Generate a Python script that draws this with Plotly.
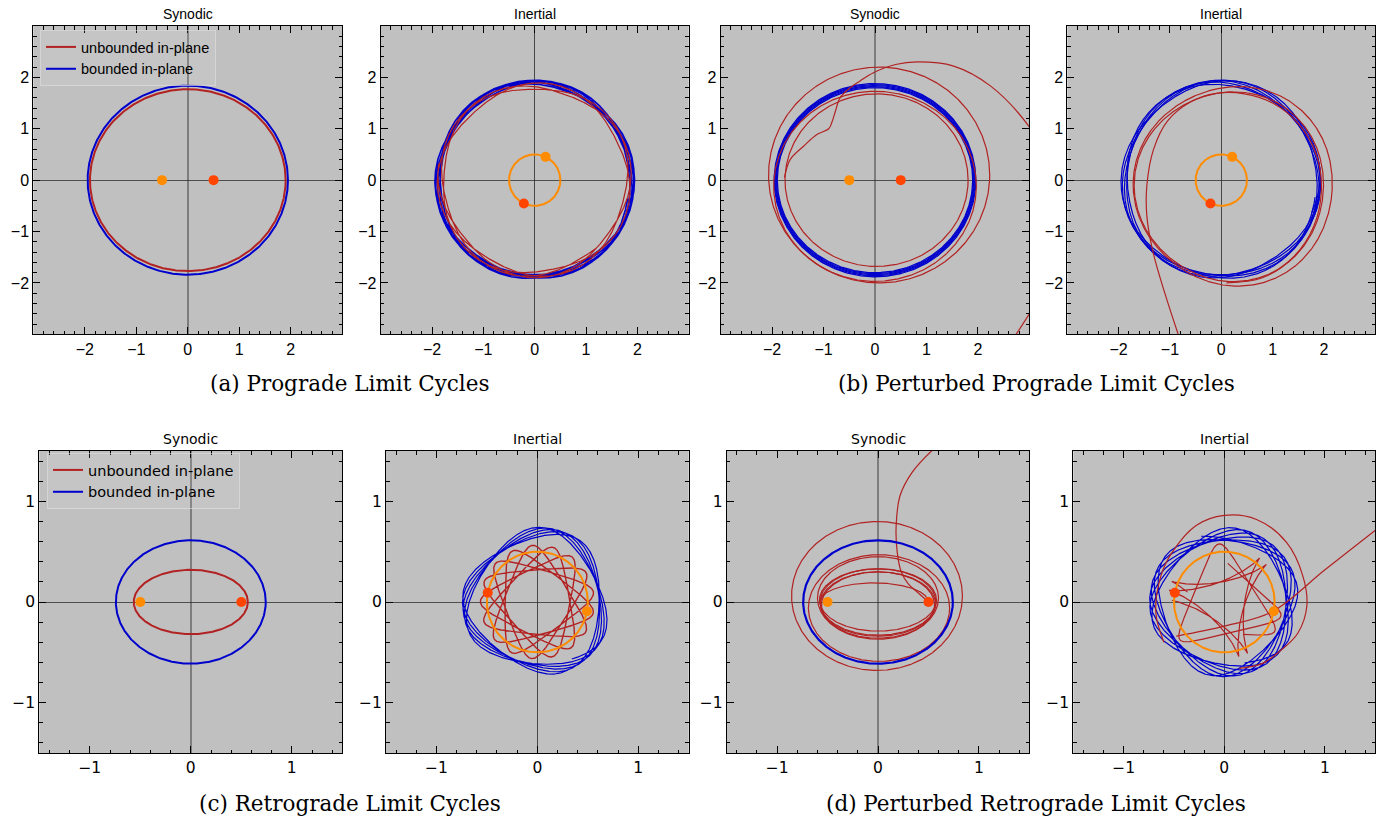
import numpy as np
import plotly.graph_objects as go

FIG_W, FIG_H = 1383, 819
BG = "#c0c0c0"
RED = "#b22222"
BLUE = "#0000cd"
ORANGE = "#ff8c00"
ORANGERED = "#ff4500"

# ---------------- values ----------------
primary_x = [-0.5, 0.5]          # orange, orange-red primaries (synodic)
primary_y = [0.0, 0.0]
primary_orbit_radius = 0.5
frame_angle_pro = 245.0          # deg, rotation of the frame at the final instant
frame_angle_retro = 169.5

# (a) prograde limit cycles, synodic semi-axes [a, b]
pro_red_axes = [1.90, 1.77]
pro_blue_axes = [1.945, 1.84]
pro_red_rate, pro_red_revs, pro_red_phase = -0.63, 3.4, 1.2
pro_blue_rate, pro_blue_revs, pro_blue_phase = -0.61, 5.0, 1.8

# (b) perturbed prograde: synodic loops
pp_blue_a = [1.90, 1.915, 1.93, 1.945, 1.96]
pp_blue_b = [1.80, 1.82, 1.84, 1.86, 1.88]
pp_red_cx = [0.08, 0.00, 0.03]
pp_red_cy = [0.10, -0.12, 0.00]
pp_red_a = [2.15, 1.97, 1.78]
pp_red_b = [2.10, 1.85, 1.68]
pp_escape_x = [-1.76, -1.65, -1.39, -1.13, -0.90, -0.84, -0.77, -0.68, -0.48, -0.29, -0.03, 0.40, 0.82, 1.53, 2.25, 2.99, 3.30]
pp_escape_y = [0.05, 0.40, 0.66, 0.89, 1.00, 1.12, 1.34, 1.60, 1.80, 1.93, 2.09, 2.25, 2.30, 2.22, 1.83, 1.05, 0.50]
pp_tail_x = [2.68, 3.10]
pp_tail_y = [-3.10, -2.45]
# (b) perturbed prograde: inertial
ppi_blue_a = [1.955, 1.95, 1.945, 1.94, 1.935]
ppi_blue_b = [1.85, 1.845, 1.84, 1.835, 1.83]
ppi_blue_phase_end = 1.815
ppi_red_cx = [0.25, 0.17]
ppi_red_cy = [-0.11, -0.12]
ppi_red_a = [1.97, 1.87]
ppi_red_b = [1.91, 1.82]
ppi_escape_x = [-0.84, -1.10, -1.33, -1.45, -1.45, -1.32, -1.05, -0.60, -0.10, 0.45, 1.00, 1.50, 1.85, 1.95, 1.80, 1.40, 0.80, 0.10]
ppi_escape_y = [-3.00, -2.20, -1.40, -0.70, -0.10, 0.60, 1.15, 1.52, 1.69, 1.68, 1.50, 1.10, 0.50, -0.20, -0.90, -1.50, -1.90, -2.00]

# (c) retrograde limit cycles
retro_red_axes = [0.565, 0.32]
retro_blue_axes = [0.742, 0.613]
retro_red_rate, retro_red_revs, retro_red_phase = -3.4, 6.0, 0.6
retro_blue_rate, retro_blue_revs, retro_blue_phase = -2.87, 5.0, 2.204

# (d) perturbed retrograde: synodic loops
pr_red_cx = [-0.01, 0.01, 0.00, 0.00, 0.00, 0.00, 0.00]
pr_red_cy = [0.06, -0.06, 0.04, 0.02, 0.00, -0.02, -0.03]
pr_red_a = [0.847, 0.70, 0.60, 0.58, 0.575, 0.57, 0.56]
pr_red_b = [0.74, 0.53, 0.41, 0.31, 0.33, 0.32, 0.33]
pr_arc_axes = [-0.04, 0.54, 0.19]       # centre x, a, b of the inner arc
pr_escape_x = [0.50, 0.40, 0.30, 0.23, 0.19, 0.18, 0.22, 0.34, 0.54, 0.62]
pr_escape_y = [0.00, 0.09, 0.18, 0.30, 0.50, 0.76, 1.06, 1.29, 1.51, 1.58]
# (d) perturbed retrograde: inertial
pri_blue_axes = [0.742, 0.613]
pri_blue_rate, pri_blue_revs, pri_blue_phase = -2.82, 6.5, 2.0
pri_loop_a = [0.56, 0.58]
pri_loop_b = [0.20, 0.31]
pri_loop_rate = [-2.85, -3.3]
pri_loop_revs = [2.0, 1.4]
pri_loop_phase = [0.4, 2.0]
pri_outer_x = [-0.60, -0.68, -0.63, -0.52, -0.28, 0.00, 0.32, 0.62, 0.78, 0.82, 0.73, 0.55, 0.38, 0.15]
pri_outer_y = [-0.40, -0.11, 0.26, 0.49, 0.76, 0.86, 0.82, 0.59, 0.26, -0.04, -0.31, -0.49, -0.61, -0.66]
pri_escape_x = [-0.48, 0.00, 0.47, 1.00, 1.51]
pri_escape_y = [-0.34, -0.24, -0.10, 0.32, 0.72]

# ---------------- layout boxes (pixels) ----------------
boxes = {
    "a1": (33.3, 342.3, 26.0, 334.3), "a2": (380.7, 688.7, 26.0, 334.3),
    "b1": (720.7, 1029.3, 26.0, 334.3), "b2": (1067.3, 1375.3, 26.0, 334.3),
    "c1": (39.3, 342.3, 451.0, 753.0), "c2": (386.0, 688.7, 451.0, 753.0),
    "d1": (726.7, 1029.3, 451.0, 753.0), "d2": (1073.3, 1375.3, 451.0, 753.0),
}
order = ["a1", "a2", "b1", "b2", "c1", "c2", "d1", "d2"]
titles = {"a1": "Synodic", "a2": "Inertial", "b1": "Synodic", "b2": "Inertial",
          "c1": "Synodic", "c2": "Inertial", "d1": "Synodic", "d2": "Inertial"}

fig = go.Figure()


def ax(key):
    i = order.index(key) + 1
    return ("x%d" % i, "y%d" % i)


def add(key, x, y, color, width, spline=False, **kw):
    xa, ya = ax(key)
    line = dict(color=color, width=width)
    if spline:
        line["shape"] = "spline"
        line["smoothing"] = 1.0
    fig.add_trace(go.Scatter(x=x, y=y, mode="lines", line=line, xaxis=xa, yaxis=ya,
                             hoverinfo="skip", showlegend=kw.pop("showlegend", False), **kw))


def ellipse(cx, cy, a, b, th0=0.0, th1=2 * np.pi, n=600):
    th = np.linspace(th0, th1, n)
    return cx + a * np.cos(th), cy + b * np.sin(th)


def inertial(a, b, rate, revs, frame_end_deg, phase_end, t_shift=0.0, n=5000):
    t_end = np.deg2rad(frame_end_deg) - t_shift
    dur = revs * 2 * np.pi / abs(rate + 1.0)
    t = np.linspace(t_end - dur, t_end, n)
    th = phase_end + rate * (t - t_end)
    xs, ys = a * np.cos(th), b * np.sin(th)
    return xs * np.cos(t) - ys * np.sin(t), xs * np.sin(t) + ys * np.cos(t)


def primaries_inertial(key, frame_deg):
    ang = np.deg2rad(frame_deg)
    xo, yo = ellipse(0, 0, primary_orbit_radius, primary_orbit_radius)
    add(key, xo, yo, ORANGE, 2)
    xa, ya = ax(key)
    px = [primary_x[0] * np.cos(ang), primary_x[1] * np.cos(ang)]
    py = [primary_x[0] * np.sin(ang), primary_x[1] * np.sin(ang)]
    fig.add_trace(go.Scatter(x=px, y=py, mode="markers", xaxis=xa, yaxis=ya,
                             marker=dict(size=10, color=[ORANGE, ORANGERED]),
                             hoverinfo="skip", showlegend=False))


def primaries_synodic(key):
    xa, ya = ax(key)
    fig.add_trace(go.Scatter(x=primary_x, y=primary_y, mode="markers", xaxis=xa, yaxis=ya,
                             marker=dict(size=10, color=[ORANGE, ORANGERED]),
                             hoverinfo="skip", showlegend=False))


# ---- (a) synodic
x, y = ellipse(0, 0, *pro_red_axes)
add("a1", x, y, RED, 2, showlegend=True, name="unbounded in-plane", legend="legend")
x, y = ellipse(0, 0, *pro_blue_axes)
add("a1", x, y, BLUE, 2, showlegend=True, name="bounded in-plane", legend="legend")
primaries_synodic("a1")
# ---- (a) inertial
x, y = inertial(*pro_blue_axes, pro_blue_rate, pro_blue_revs, frame_angle_pro, pro_blue_phase)
add("a2", x, y, BLUE, 1.6)
x, y = inertial(*pro_red_axes, pro_red_rate, pro_red_revs, frame_angle_pro, pro_red_phase)
add("a2", x, y, RED, 1.2)
primaries_inertial("a2", frame_angle_pro)

# ---- (b) synodic
for a, b in zip(pp_blue_a, pp_blue_b):
    x, y = ellipse(0, 0, a, b)
    add("b1", x, y, BLUE, 1.3)
for cx, cy, a, b in zip(pp_red_cx, pp_red_cy, pp_red_a, pp_red_b):
    x, y = ellipse(cx, cy, a, b)
    add("b1", x, y, RED, 1.2)
add("b1", pp_escape_x, pp_escape_y, RED, 1.2, spline=True)
add("b1", pp_tail_x, pp_tail_y, RED, 1.2)
primaries_synodic("b1")
# ---- (b) inertial
shift = 0.0
for a, b in zip(ppi_blue_a, ppi_blue_b):
    x, y = inertial(a, b, pro_blue_rate, 1.02, frame_angle_pro,
                    ppi_blue_phase_end - pro_blue_rate * shift, t_shift=shift)
    add("b2", x, y, BLUE, 1.2)
    shift += 2 * np.pi / abs(pro_blue_rate + 1.0)
for cx, cy, a, b in zip(ppi_red_cx, ppi_red_cy, ppi_red_a, ppi_red_b):
    x, y = inertial(a, b, -0.6, 1.0, frame_angle_pro, 0.5)
    add("b2", x + cx, y + cy, RED, 1.2)
add("b2", ppi_escape_x, ppi_escape_y, RED, 1.2, spline=True)
primaries_inertial("b2", frame_angle_pro)

# ---- (c) synodic
x, y = ellipse(0, 0, *retro_red_axes)
add("c1", x, y, RED, 2, showlegend=True, name="unbounded in-plane", legend="legend2")
x, y = ellipse(0, 0, *retro_blue_axes)
add("c1", x, y, BLUE, 2, showlegend=True, name="bounded in-plane", legend="legend2")
primaries_synodic("c1")
# ---- (c) inertial
x, y = inertial(*retro_blue_axes, retro_blue_rate, retro_blue_revs, frame_angle_retro, retro_blue_phase)
add("c2", x, y, BLUE, 1.2)
x, y = inertial(*retro_red_axes, retro_red_rate, retro_red_revs, frame_angle_retro, retro_red_phase)
add("c2", x, y, RED, 1.4)
primaries_inertial("c2", frame_angle_retro)

# ---- (d) synodic
for cx, cy, a, b in zip(pr_red_cx, pr_red_cy, pr_red_a, pr_red_b):
    x, y = ellipse(cx, cy, a, b)
    add("d1", x, y, RED, 1.2)
x, y = ellipse(pr_arc_axes[0], 0, pr_arc_axes[1], pr_arc_axes[2], 0, np.pi)
add("d1", x, y, RED, 1.2)
add("d1", pr_escape_x, pr_escape_y, RED, 1.2, spline=True)
x, y = ellipse(0, 0, *retro_blue_axes)
add("d1", x, y, BLUE, 2.2)
primaries_synodic("d1")
# ---- (d) inertial
x, y = inertial(*pri_blue_axes, pri_blue_rate, pri_blue_revs, frame_angle_retro, pri_blue_phase)
add("d2", x, y, BLUE, 1.2)
for a, b, r, n, p in zip(pri_loop_a, pri_loop_b, pri_loop_rate, pri_loop_revs, pri_loop_phase):
    x, y = inertial(a, b, r, n, frame_angle_retro, p)
    add("d2", x, y, RED, 1.2)
add("d2", pri_outer_x, pri_outer_y, RED, 1.2, spline=True)
add("d2", pri_escape_x, pri_escape_y, RED, 1.2, spline=True)
primaries_inertial("d2", frame_angle_retro)

# ---------------- axes ----------------
layout = dict(width=FIG_W, height=FIG_H, margin=dict(l=0, r=0, t=0, b=0),
              paper_bgcolor="white", plot_bgcolor=BG, showlegend=True)
annotations = []
for key in order:
    i = order.index(key) + 1
    x0, x1, y0, y1 = boxes[key]
    top = key[0] in "ab"
    R = 3.0 if top else 1.5
    tv = [-2, -1, 0, 1, 2] if top else [-1, 0, 1]
    fam = "Liberation Sans, Arial, sans-serif" if top else "DejaVu Sans, sans-serif"
    fsz = 16 if top else 15.5
    syn = titles[key] == "Synodic"
    common = dict(range=[-R, R], showgrid=False, showline=True, linecolor="black", linewidth=1,
                  mirror="allticks", ticks="inside", ticklen=7, tickwidth=1, tickcolor="black",
                  tickmode="array", tickvals=tv, ticktext=[("\u2212%d" % -v) if v < 0 else str(v) for v in tv],
                  tickfont=dict(family=fam, size=fsz, color="black"),
                  minor=dict(ticks="inside", ticklen=3.5, tickwidth=1, tickcolor="black",
                             tickmode="linear", tick0=0, dtick=0.2),
                  zeroline=True, fixedrange=True)
    xa = dict(common, domain=[x0 / FIG_W, x1 / FIG_W], anchor="y%d" % i,
              zerolinecolor="rgba(70,70,70,0.55)" if syn else "rgba(40,40,40,0.8)",
              zerolinewidth=2 if syn else 1)
    ya = dict(common, domain=[1 - y1 / FIG_H, 1 - y0 / FIG_H], anchor="x%d" % i,
              zerolinecolor="rgba(40,40,40,0.75)", zerolinewidth=1.2 if syn else 1)
    layout["xaxis%d" % i] = xa
    layout["yaxis%d" % i] = ya
    annotations.append(dict(text=titles[key], x=(x0 + x1) / 2 / FIG_W, y=1 - (y0 - 12) / FIG_H,
                            xref="paper", yref="paper", showarrow=False, xanchor="center", yanchor="middle",
                            font=dict(family=fam, size=14, color="black")))

cap_font = dict(family="DejaVu Serif, serif", size=21.5, color="black")
captions = [("(a) Prograde Limit Cycles", 349, 383), ("(b) Perturbed Prograde Limit Cycles", 1036, 383),
            ("(c) Retrograde Limit Cycles", 350, 803), ("(d) Perturbed Retrograde Limit Cycles", 1036, 803)]
for txt, cx, cy in captions:
    annotations.append(dict(text=txt, x=cx / FIG_W, y=1 - cy / FIG_H, xref="paper", yref="paper",
                            showarrow=False, xanchor="center", yanchor="middle", font=cap_font))
layout["annotations"] = annotations

leg_common = dict(xanchor="left", yanchor="top", bgcolor="rgba(255,255,255,0.08)",
                  bordercolor="rgba(225,225,225,0.6)", borderwidth=1, itemwidth=30,
                  tracegroupgap=0)
layout["legend"] = dict(leg_common, x=40 / FIG_W, y=1 - 30 / FIG_H,
                        font=dict(family="Liberation Sans, Arial, sans-serif", size=14.5, color="black"))
layout["legend2"] = dict(leg_common, x=47 / FIG_W, y=1 - 453 / FIG_H,
                         font=dict(family="DejaVu Sans, sans-serif", size=14.5, color="black"))
fig.update_layout(**layout)
fig.write_html("out.html")
